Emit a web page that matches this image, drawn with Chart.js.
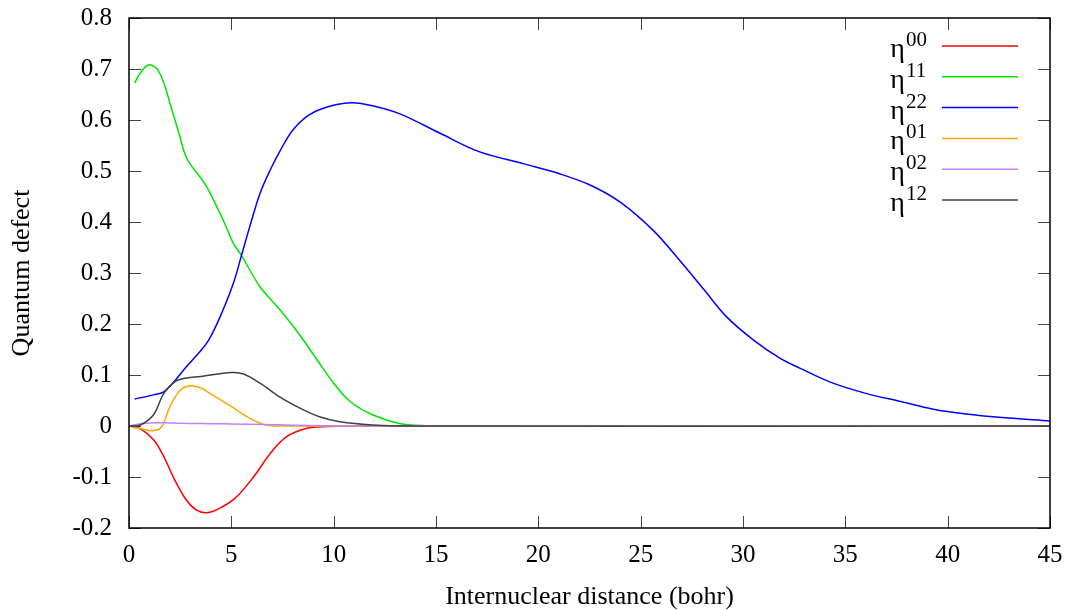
<!DOCTYPE html>
<html>
<head>
<meta charset="utf-8">
<script src="https://cdn.jsdelivr.net/npm/chart.js@4.4.1/dist/chart.umd.min.js"></script>
<style>
  html, body { margin: 0; padding: 0; background: #ffffff; }
  #wrap { width: 1075px; height: 610px; }
</style>
</head>
<body>
<div id="wrap"><canvas id="c" width="1075" height="610"></canvas></div>
<script>
// Quantum defects eta^{ij} versus internuclear distance R (bohr)
const seriesSup = ['00', '11', '22', '01', '02', '12'];
const seriesColors = ['#ff0000', '#00e400', '#0000ff', '#ffa500', '#c080ff', '#404040'];

const r00 = [0, 0.5, 1.2, 1.7, 2.2, 2.8, 3.3, 3.8, 4.4, 5.2, 6.1, 6.9, 7.7, 8.7, 9.7, 11, 45];
const eta00 = [0, -0.004, -0.027, -0.06, -0.103, -0.145, -0.165, -0.170, -0.162, -0.141, -0.099, -0.054, -0.021, -0.0045, -0.001, 0, 0];

const r11 = [0.28, 0.53, 0.94, 1.35, 1.68, 2.0, 2.41, 2.82, 3.47, 3.8, 4.6, 5.1, 5.5, 6.4, 7.4, 8.35, 9.2, 10.0, 10.8, 11.9, 13.2, 14.5, 16, 45];
const eta11 = [0.673, 0.691, 0.708, 0.701, 0.675, 0.633, 0.578, 0.525, 0.488, 0.469, 0.404, 0.358, 0.334, 0.273, 0.227, 0.178, 0.129, 0.084, 0.048, 0.022, 0.005, 0.0005, 0, 0];

const r22 = [0.28, 1.2, 1.7, 2.2, 2.8, 3.47, 3.9, 4.45, 5.1, 5.5, 5.9, 6.4, 6.9, 7.4, 8.0, 8.8, 9.8, 10.9, 11.9, 13.24, 15.2, 17.1, 19.3, 21.0, 22.5, 24.0, 25.6, 26.9, 28.1, 29.2, 30.5, 31.8, 32.8, 34.4, 36.0, 37.7, 39.3, 40.9, 42.5, 45];
const eta22 = [0.053, 0.061, 0.067, 0.087, 0.116, 0.146, 0.169, 0.214, 0.280, 0.335, 0.391, 0.456, 0.502, 0.541, 0.580, 0.610, 0.627, 0.634, 0.628, 0.612, 0.574, 0.538, 0.514, 0.495, 0.473, 0.439, 0.384, 0.325, 0.267, 0.214, 0.169, 0.133, 0.113, 0.084, 0.064, 0.048, 0.033, 0.0235, 0.017, 0.0098];

const r01 = [0, 0.55, 1.2, 1.6, 2.0, 2.5, 3.0, 3.55, 3.95, 4.9, 5.9, 6.7, 7.5, 45];
const eta01 = [0, -0.005, -0.009, -0.001, 0.038, 0.070, 0.079, 0.074, 0.064, 0.041, 0.015, 0.002, 0, 0];

const r02 = [0, 0.5, 1.2, 2, 3, 4, 5, 6.5, 8, 9.5, 11, 45];
const eta02 = [0, 0.004, 0.0065, 0.006, 0.005, 0.0045, 0.004, 0.003, 0.0015, 0.0003, 0, 0];

const r12 = [0, 0.55, 1.2, 1.7, 2.25, 2.8, 3.5, 5.0, 5.6, 6.4, 7.4, 8.35, 9.3, 10.3, 11.9, 13.5, 45];
const eta12 = [0, 0.002, 0.022, 0.064, 0.087, 0.094, 0.097, 0.105, 0.102, 0.084, 0.056, 0.035, 0.018, 0.0085, 0.002, 0, 0];

const xTickValues = [0, 5, 10, 15, 20, 25, 30, 35, 40, 45];
const yTickValues = [-0.2, -0.1, 0, 0.1, 0.2, 0.3, 0.4, 0.5, 0.6, 0.7, 0.8];
const yTickLabels = ['-0.2', '-0.1', '0', '0.1', '0.2', '0.3', '0.4', '0.5', '0.6', '0.7', '0.8'];

const rValues = [r00, r11, r22, r01, r02, r12];
const etaValues = [eta00, eta11, eta22, eta01, eta02, eta12];

const SERIF = '"Liberation Serif", "Times New Roman", Times, serif';

const datasets = seriesSup.map((sup, i) => ({
  label: 'η' + sup,
  data: rValues[i].map((r, k) => ({ x: r, y: etaValues[i][k] })),
  borderColor: seriesColors[i],
  backgroundColor: seriesColors[i],
  borderWidth: 1.5,
  pointRadius: 0,
  fill: false,
  tension: 0.35,
  order: seriesSup.length - i
}));

// Frame with inward ticks on all four sides, plus the keyed legend
const framePlugin = {
  id: 'frame',
  afterDatasetsDraw(chart) {
    const { ctx, chartArea: a, scales: { x, y } } = chart;
    const tl = 12;
    ctx.save();
    ctx.strokeStyle = '#444444';
    ctx.lineWidth = 1;
    ctx.beginPath();
    xTickValues.forEach(v => {
      const px = Math.round(x.getPixelForValue(v)) + 0.5;
      ctx.moveTo(px, a.bottom); ctx.lineTo(px, a.bottom - tl);
      ctx.moveTo(px, a.top); ctx.lineTo(px, a.top + tl);
    });
    yTickValues.forEach(v => {
      const py = Math.round(y.getPixelForValue(v)) + 0.5;
      ctx.moveTo(a.left, py); ctx.lineTo(a.left + tl, py);
      ctx.moveTo(a.right, py); ctx.lineTo(a.right - tl, py);
    });
    ctx.stroke();

    ctx.strokeStyle = '#000000';
    ctx.lineWidth = 1.5;
    ctx.strokeRect(a.left, a.top, a.right - a.left, a.bottom - a.top);

    // legend
    const rowY0 = a.top + 28;
    const rowStep = 30.8;
    const lineX0 = a.left + 813, lineX1 = a.left + 889;
    const textX = a.left + 776;
    seriesSup.forEach((sup, i) => {
      const ry = rowY0 + i * rowStep;
      ctx.strokeStyle = seriesColors[i];
      ctx.lineWidth = 1.5;
      ctx.beginPath();
      ctx.moveTo(lineX0, ry); ctx.lineTo(lineX1, ry);
      ctx.stroke();
      ctx.fillStyle = '#000000';
      ctx.textBaseline = 'alphabetic';
      ctx.textAlign = 'right';
      ctx.font = '28px ' + SERIF;
      ctx.fillText('η', textX, ry + 11);
      ctx.textAlign = 'left';
      ctx.font = '21px ' + SERIF;
      ctx.fillText(sup, textX + 1, ry);
    });
    ctx.restore();
  }
};

new Chart(document.getElementById('c'), {
  type: 'line',
  data: { datasets },
  options: {
    responsive: false,
    devicePixelRatio: 1,
    animation: false,
    events: [],
    layout: { padding: { top: 18, right: 25, left: 0, bottom: 0 } },
    plugins: { legend: { display: false }, tooltip: { enabled: false } },
    scales: {
      x: {
        type: 'linear',
        min: 0,
        max: 45,
        afterBuildTicks: s => { s.ticks = xTickValues.map(v => ({ value: v })); },
        afterFit: s => { s.height = 82; s.paddingLeft = 0; s.paddingRight = 0; },
        grid: { display: false, drawTicks: false },
        border: { display: false },
        ticks: {
          autoSkip: false, maxRotation: 0, padding: 12, color: '#000000',
          font: { family: SERIF, size: 25 },
          callback: v => String(v)
        },
        title: {
          display: true, text: 'Internuclear distance (bohr)', color: '#000000',
          font: { family: SERIF, size: 26, lineHeight: 1 },
          padding: { top: 0, bottom: 0 }
        }
      },
      y: {
        type: 'linear',
        min: -0.2,
        max: 0.8,
        afterBuildTicks: s => { s.ticks = yTickValues.map(v => ({ value: v })); },
        afterFit: s => { s.width = 129; s.paddingTop = 0; s.paddingBottom = 0; },
        grid: { display: false, drawTicks: false },
        border: { display: false },
        ticks: {
          autoSkip: false, padding: 17, color: '#000000',
          font: { family: SERIF, size: 25 },
          callback: (v, i) => yTickLabels[i]
        },
        title: {
          display: true, text: 'Quantum defect', color: '#000000',
          font: { family: SERIF, size: 26, lineHeight: 1 },
          padding: { top: 9, bottom: 0 }
        }
      }
    }
  },
  plugins: [framePlugin]
});
</script>
</body>
</html>
